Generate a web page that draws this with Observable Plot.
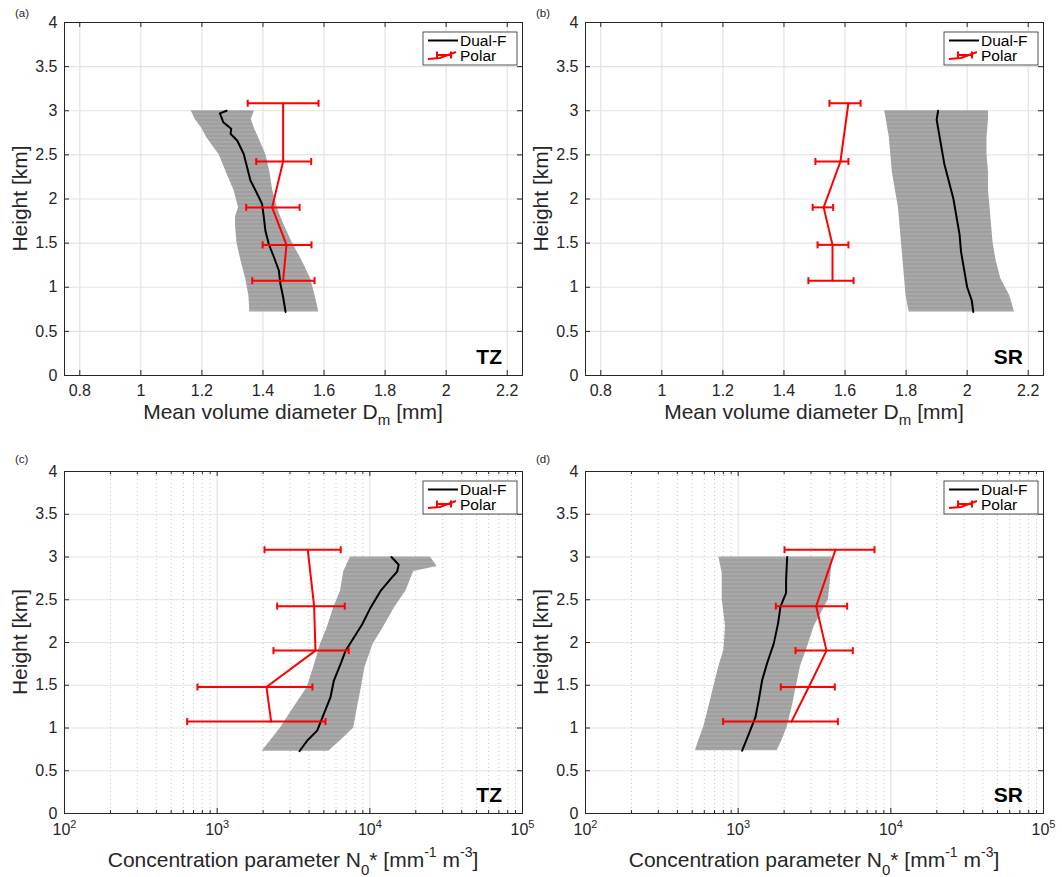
<!DOCTYPE html>
<html><head><meta charset="utf-8">
<script src="https://cdn.jsdelivr.net/npm/d3@7"></script>
<script src="https://cdn.jsdelivr.net/npm/@observablehq/plot@0.6"></script>
<style>
body{margin:0;background:#fff;}
#wrap{position:relative;width:1062px;height:877px;overflow:hidden;}
</style></head><body><div id="wrap"></div>
<svg width="0" height="0" style="position:absolute">
  <defs>
    <pattern id="streak" patternUnits="userSpaceOnUse" width="7" height="4">
      <rect width="7" height="4" fill="#9f9f9f"></rect>
      <rect y="1.6" width="7" height="0.7" fill="#b9b9b9"></rect>
    </pattern>
  </defs>
</svg>
<script>
// ---------- tick values ----------
const yTicks = [0, 0.5, 1, 1.5, 2, 2.5, 3, 3.5, 4];
const dmTicks = [0.8, 1, 1.2, 1.4, 1.6, 1.8, 2, 2.2];
const n0Ticks = [100, 1000, 10000, 100000];
const n0Minor = [200,300,400,500,600,700,800,900,2000,3000,4000,5000,6000,7000,8000,9000,20000,30000,40000,50000,60000,70000,80000,90000];

// ---------- Polar (radar) profiles: heights shared by all panels ----------
const polarH = [3.085, 2.425, 1.905, 1.48, 1.075];

// (a) TZ  Dm
const aPolarMid = [1.466, 1.466, 1.43, 1.477, 1.466];
const aPolarLo  = [1.35, 1.378, 1.345, 1.399, 1.365];
const aPolarHi  = [1.582, 1.558, 1.52, 1.559, 1.569];
const aBandH  = [0.72, 0.9, 1.1, 1.3, 1.5, 1.7, 1.8, 1.9, 2.1, 2.3, 2.5, 2.7, 2.8, 2.9, 3.0];
const aBandLo = [1.357, 1.354, 1.343, 1.328, 1.315, 1.31, 1.31, 1.32, 1.305, 1.28, 1.257, 1.215, 1.20, 1.178, 1.165];
const aBandHi = [1.583, 1.571, 1.556, 1.528, 1.497, 1.47, 1.458, 1.447, 1.432, 1.423, 1.41, 1.385, 1.372, 1.362, 1.372];
const aMedH = [0.72, 0.89, 1.04, 1.19, 1.34, 1.49, 1.64, 1.79, 1.945, 2.06, 2.21, 2.36, 2.51, 2.66, 2.74, 2.795, 2.87, 2.97, 3.0];
const aMedV = [1.474, 1.466, 1.457, 1.452, 1.436, 1.419, 1.408, 1.403, 1.397, 1.381, 1.359, 1.348, 1.337, 1.316, 1.294, 1.296, 1.27, 1.259, 1.281];

// (b) SR  Dm
const bPolarMid = [1.611, 1.585, 1.53, 1.559, 1.559];
const bPolarLo  = [1.549, 1.503, 1.494, 1.51, 1.48];
const bPolarHi  = [1.651, 1.611, 1.561, 1.611, 1.628];
const bBandH  = [0.72, 0.9, 1.1, 1.3, 1.5, 1.7, 1.9, 2.1, 2.3, 2.5, 2.7, 2.9, 3.0];
const bBandLo = [1.81, 1.80, 1.795, 1.79, 1.785, 1.78, 1.775, 1.765, 1.755, 1.75, 1.745, 1.735, 1.73];
const bBandHi = [2.155, 2.14, 2.11, 2.095, 2.085, 2.08, 2.075, 2.07, 2.07, 2.065, 2.065, 2.07, 2.07];
const bMedH = [0.72, 0.85, 1.0, 1.2, 1.4, 1.6, 1.8, 2.0, 2.2, 2.4, 2.6, 2.8, 2.9, 3.0];
const bMedV = [2.02, 2.015, 2.0, 1.99, 1.98, 1.975, 1.965, 1.955, 1.94, 1.925, 1.915, 1.905, 1.9, 1.905];

// (c) TZ  N0*
const cPolarMid = [3920, 4316, 4405, 2103, 2258];
const cPolarLo  = [2042, 2472, 2337, 743, 636];
const cPolarHi  = [6450, 6850, 7275, 4207, 5119];
const cBandH  = [0.728, 0.85, 1.0, 1.24, 1.47, 1.71, 1.98, 2.17, 2.405, 2.6, 2.83, 2.89, 3.0];
const cBandLo = [1970, 2234, 2597, 3175, 3880, 4290, 4750, 5250, 5800, 6420, 6750, 7000, 7460];
const cBandHi = [5380, 6420, 7845, 8300, 8800, 9300, 10500, 12200, 14500, 17200, 19400, 27570, 24950];
const cMedH = [0.728, 0.85, 0.969, 1.163, 1.357, 1.55, 1.745, 1.90, 2.056, 2.21, 2.405, 2.6, 2.74, 2.83, 2.91, 3.0];
const cMedV = [3460, 3880, 4520, 4990, 5520, 5805, 6420, 6920, 7845, 8900, 10090, 11730, 13650, 15100, 15460, 13850];

// (d) SR  N0*
const dPolarMid = [4341, 3245, 3790, 2903, 2234];
const dPolarLo  = [2012, 1765, 2374, 1903, 797];
const dPolarHi  = [7816, 5176, 5637, 4296, 4498];
const dBandH  = [0.734, 0.86, 1.016, 1.25, 1.48, 1.72, 1.91, 2.19, 2.5, 2.81, 3.0];
const dBandLo = [525, 553, 596, 643, 692, 747, 806, 826, 786, 786, 747];
const dBandHi = [1800, 1942, 2100, 2260, 2400, 2560, 2800, 3150, 3900, 4060, 4130];
const dMedH = [0.734, 0.93, 1.13, 1.33, 1.56, 1.76, 1.99, 2.23, 2.42, 2.58, 2.73, 3.0];
const dMedV = [1062, 1175, 1299, 1365, 1436, 1549, 1712, 1828, 1892, 2060, 2060, 2094];

// ---------- helpers ----------
const zip = (h, a, b, c) => h.map((v, i) => ({h: v, lo: a[i], hi: b[i], mid: c ? c[i] : undefined}));
const line = (h, v) => h.map((y, i) => ({h: y, v: v[i]}));
const INK = "#262626";
const FONT = "'Liberation Sans', Arial, Helvetica, sans-serif";
const cap = {draw(ctx) { ctx.moveTo(0, -3.5); ctx.lineTo(0, 3.5); }};

function panel(cfg) {
  const ml = 64, pw = 458, mr = 16;
  const {mt, ph, mb, log} = cfg;
  const W = ml + pw + mr, H = mt + ph + mb;
  const xTicks = log ? n0Ticks : dmTicks;
  const band = zip(cfg.bandH, cfg.bandLo, cfg.bandHi);
  const med = line(cfg.medH, cfg.medV);
  const polar = zip(polarH, cfg.pLo, cfg.pHi, cfg.pMid);
  const marks = [
    Plot.gridX(xTicks, {stroke: "#e3e3e3", strokeOpacity: 1, strokeWidth: 1.2}),
    Plot.gridY(yTicks, {stroke: "#e3e3e3", strokeOpacity: 1, strokeWidth: 1.2})
  ];
  if (log) marks.push(Plot.gridX(n0Minor, {stroke: "#c8c8c8", strokeOpacity: 1, strokeWidth: 1, strokeDasharray: "1,3"}));
  marks.push(
    Plot.areaX(band, {y: "h", x1: "lo", x2: "hi", fill: "url(#streak)"}),
    Plot.line(med, {x: "v", y: "h", stroke: "#000", strokeWidth: 2, curve: "linear"}),
    Plot.ruleY(polar, {y: "h", x1: "lo", x2: "hi", stroke: "#ff0000", strokeWidth: 2}),
    Plot.dot(polar, {x: "lo", y: "h", symbol: cap, stroke: "#ff0000", fill: "none", strokeWidth: 2}),
    Plot.dot(polar, {x: "hi", y: "h", symbol: cap, stroke: "#ff0000", fill: "none", strokeWidth: 2}),
    Plot.line(polar, {x: "mid", y: "h", stroke: "#ff0000", strokeWidth: 2}),
    Plot.tickX(xTicks, {x: d => d, insetTop: ph - 5, stroke: INK}),
    Plot.tickX(xTicks, {x: d => d, insetBottom: ph - 5, stroke: INK}),
    Plot.tickY(yTicks, {y: d => d, insetRight: pw - 5, stroke: INK}),
    Plot.tickY(yTicks, {y: d => d, insetLeft: pw - 5, stroke: INK})
  );
  if (log) marks.push(
    Plot.tickX(n0Minor, {x: d => d, insetTop: ph - 3, stroke: INK}),
    Plot.tickX(n0Minor, {x: d => d, insetBottom: ph - 3, stroke: INK})
  );
  marks.push(
    Plot.axisX({ticks: xTicks, tickSize: 0, tickPadding: log ? 10.6 : 9.6, fontSize: 16, label: null,
      tickFormat: log ? (d => "10^" + Math.round(Math.log10(d))) : (d => String(d))}),
    Plot.axisY({ticks: yTicks, tickSize: 0, tickPadding: 7, fontSize: 16, label: null, tickFormat: d => String(d)}),
    Plot.frame({stroke: INK, strokeWidth: 1})
  );
  const svg = Plot.plot({
    width: W, height: H,
    marginLeft: ml, marginRight: mr, marginTop: mt, marginBottom: mb,
    x: log ? {type: "log", domain: [100, 100000]} : {type: "linear", domain: [0.75, 2.25]},
    y: {type: "linear", domain: [0, 4]},
    style: {background: "none", overflow: "visible", fontFamily: FONT, color: INK},
    marks
  });
  svg.style.position = "absolute";
  svg.style.left = cfg.left + "px";
  svg.style.top = cfg.top + "px";
  svg.style.maxWidth = "none";

  const s = d3.select(svg);
  // superscript exponents on log tick labels
  s.selectAll("text").each(function() {
    const m = /^10\^(\d)$/.exec(this.textContent);
    if (m) {
      const t = d3.select(this);
      t.text("10");
      t.append("tspan").attr("font-size", 11).attr("dy", -7).text(m[1]);
    }
  });
  const g = s.append("g").attr("font-family", FONT).attr("fill", INK).attr("text-anchor", "start");
  // panel letter
  g.append("text").attr("x", 15).attr("y", mt - (log ? 8 : 5)).attr("font-size", 11.5)
    .attr("text-anchor", "start").text(cfg.letter);
  // y label
  g.append("text").attr("transform", `translate(27,${mt + ph / 2}) rotate(-90)`)
    .attr("text-anchor", "middle").attr("font-size", 21).text("Height [km]");
  // x label
  const xl = g.append("text").attr("x", ml + pw / 2).attr("y", mt + ph + (log ? 54 : 44))
    .attr("text-anchor", "middle").attr("font-size", 21);
  if (!log) {
    xl.append("tspan").text("Mean volume diameter D");
    xl.append("tspan").attr("font-size", 15).attr("dy", 6).text("m");
    xl.append("tspan").attr("dy", -6).text(" [mm]");
  } else {
    xl.append("tspan").text("Concentration parameter N");
    xl.append("tspan").attr("font-size", 15).attr("dy", 8).text("0");
    xl.append("tspan").attr("dy", -8).text("* [mm");
    xl.append("tspan").attr("font-size", 14).attr("dy", -10).text("-1");
    xl.append("tspan").attr("dy", 10).text(" m");
    xl.append("tspan").attr("font-size", 14).attr("dy", -10).text("-3");
    xl.append("tspan").attr("dy", 10).text("]");
  }
  // site label
  g.append("text").attr("x", ml + pw - 20).attr("y", mt + ph - 11).attr("text-anchor", "end")
    .attr("font-size", 21).attr("font-weight", "bold").attr("fill", "#000").text(cfg.site);
  // legend
  const bw = 94, bh = 33, bx = ml + pw - 5 - bw, by = mt + 10;
  const lg = g.append("g");
  lg.append("rect").attr("x", bx).attr("y", by).attr("width", bw).attr("height", bh)
    .attr("fill", "#fff").attr("stroke", INK).attr("stroke-width", 0.8);
  lg.append("line").attr("x1", bx + 5).attr("x2", bx + 35).attr("y1", by + 8.5).attr("y2", by + 8.5)
    .attr("stroke", "#000").attr("stroke-width", 2);
  lg.append("text").attr("x", bx + 37).attr("y", by + 13.5).attr("font-size", 15.5).attr("fill", "#000")
    .attr("text-anchor", "start").text("Dual-F");
  const ry = by + 23;
  lg.append("path").attr("d", `M${bx+5},${ry+4}L${bx+17},${ry+3}L${bx+33},${ry-3}`)
    .attr("fill", "none").attr("stroke", "#ff0000").attr("stroke-width", 2);
  lg.append("path").attr("d", `M${bx+14},${ry}H${bx+28}M${bx+14},${ry-3.5}V${ry+3.5}M${bx+28},${ry-3.5}V${ry+3.5}`)
    .attr("fill", "none").attr("stroke", "#ff0000").attr("stroke-width", 2);
  lg.append("text").attr("x", bx + 37).attr("y", by + 28.5).attr("font-size", 15.5).attr("fill", "#000")
    .attr("text-anchor", "start").text("Polar");
  return svg;
}

const wrap = document.getElementById("wrap");
wrap.appendChild(panel({left: 0, top: 0, mt: 22, ph: 353, mb: 73, log: false, letter: "(a)", site: "TZ",
  bandH: aBandH, bandLo: aBandLo, bandHi: aBandHi, medH: aMedH, medV: aMedV, pLo: aPolarLo, pHi: aPolarHi, pMid: aPolarMid}));
wrap.appendChild(panel({left: 521, top: 0, mt: 22, ph: 353, mb: 73, log: false, letter: "(b)", site: "SR",
  bandH: bBandH, bandLo: bBandLo, bandHi: bBandHi, medH: bMedH, medV: bMedV, pLo: bPolarLo, pHi: bPolarHi, pMid: bPolarMid}));
wrap.appendChild(panel({left: 0, top: 448, mt: 23, ph: 342, mb: 64, log: true, letter: "(c)", site: "TZ",
  bandH: cBandH, bandLo: cBandLo, bandHi: cBandHi, medH: cMedH, medV: cMedV, pLo: cPolarLo, pHi: cPolarHi, pMid: cPolarMid}));
wrap.appendChild(panel({left: 521, top: 448, mt: 23, ph: 342, mb: 64, log: true, letter: "(d)", site: "SR",
  bandH: dBandH, bandLo: dBandLo, bandHi: dBandHi, medH: dMedH, medV: dMedV, pLo: dPolarLo, pHi: dPolarHi, pMid: dPolarMid}));
</script></body></html>
